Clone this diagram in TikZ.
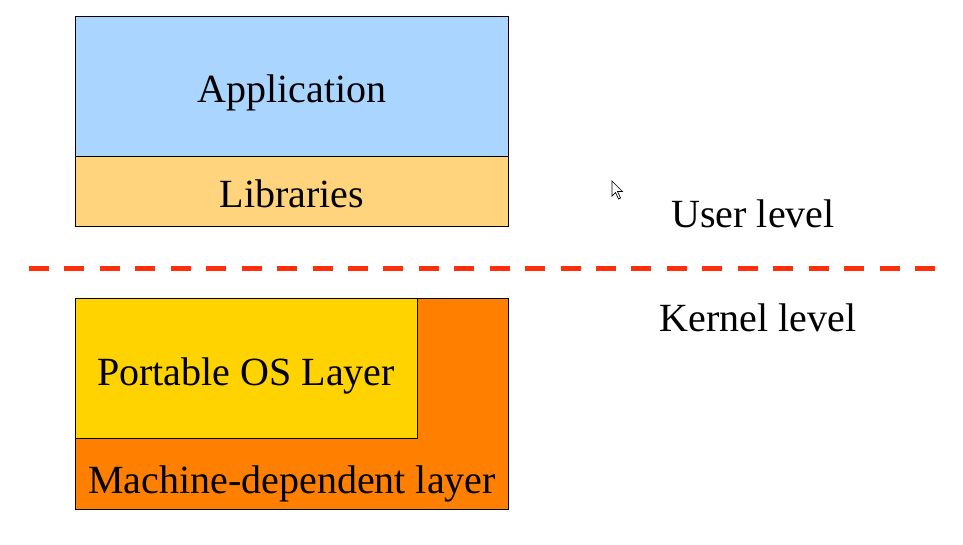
\documentclass[tikz,border=0pt]{standalone}
\usepackage{fontspec}
\setmainfont{Liberation Serif}
\definecolor{appblue}{HTML}{A9D5FF}
\definecolor{libor}{HTML}{FFD47C}
\definecolor{portyel}{HTML}{FFD300}
\definecolor{machor}{HTML}{FF7F00}
\definecolor{dashred}{HTML}{FF2E0D}
\begin{document}
\begin{tikzpicture}[x=1pt,y=-1pt,
  layer/.style={draw=black,line width=1pt},
  lbl/.style={font=\fontsize{40}{46}\selectfont,inner sep=0pt,anchor=base}]
\useasboundingbox (0,0) rectangle (963,544);
\fill[white] (0,0) rectangle (963,544);
% user level
\filldraw[layer,fill=appblue] (75,16) rectangle (508,156);
\filldraw[layer,fill=libor] (75,156) rectangle (508,226);
\node[lbl] (app) at (292,102) {Application};
\node[lbl] (lib) at (292,207) {Libraries};
% kernel level
\filldraw[layer,fill=machor] (75,298) rectangle (508,509);
\filldraw[layer,fill=portyel] (75,298) rectangle (417,438);
\node[lbl] (pos) at (246,385) {Portable OS Layer};
\node[lbl] (mdl) at (292,493) {Machine-dependent layer};
% divider
\coordinate (dl) at (29,268);
\coordinate (dr) at (935,268);
\draw[dashred,line width=5pt,dash pattern=on 20pt off 15.44pt] (dl) -- (dr);
% level labels
\node[lbl] (user) at (753,227) {User level};
\node[lbl] (kern) at (758,331) {Kernel level};
% cursor
\filldraw[fill=white,draw=black,line width=0.7pt,line join=miter]
  (612,181) -- (612,196) -- (615.5,192.5) -- (618.5,199) -- (620.5,198) -- (617.5,191.5) -- (622.5,191.5) -- cycle;
\end{tikzpicture}
\end{document}
